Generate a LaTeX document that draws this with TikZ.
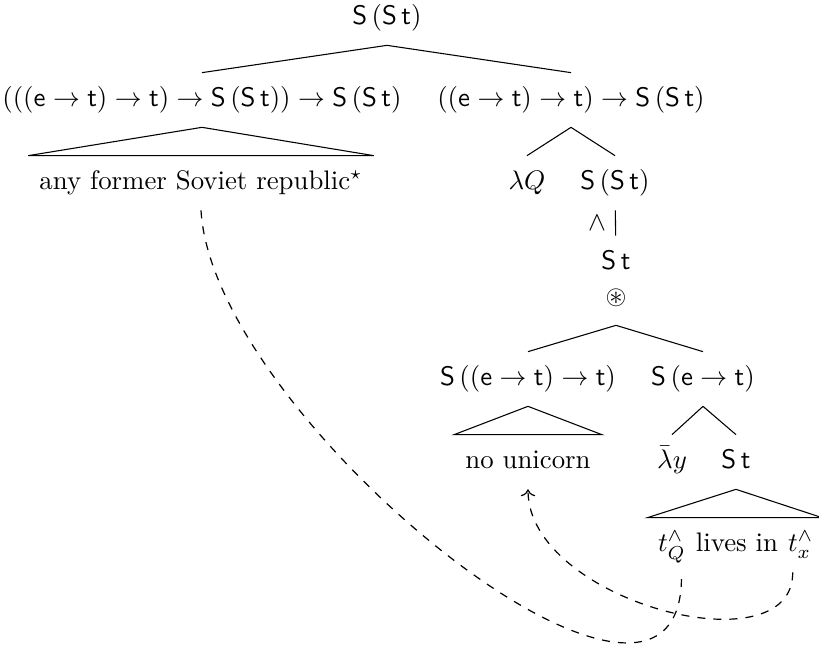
\documentclass[tikz,border=0pt]{standalone}
\usepackage{amsmath, amssymb}
\usepackage{tikz}
\usetikzlibrary{positioning, calc, arrows.meta}
\newcommand{\tyS}{\mathsf{S}}
\newcommand{\tyE}{\mathsf{e}}
\newcommand{\tyT}{\mathsf{t}}
\tikzset{
  lbl/.style={inner xsep=3pt, inner ysep=5pt, text height=7.5pt, text depth=2.5pt},
  leaf/.style={lbl, inner xsep=4pt},
  trace/.style={dashed, line width=0.45pt},
}

\begin{document}
\begin{tikzpicture}[x=0.373pt, y=-0.373pt]
  \useasboundingbox (0,0) rectangle (819,649);
  \node[lbl] (root) at (387,18) {$\tyS\,(\tyS\,\tyT)$};
  \node[lbl] (gq) at (202,100) {$(((\tyE\to\tyT)\to\tyT)\to\tyS\,(\tyS\,\tyT))\to\tyS\,(\tyS\,\tyT)$};
  \node[lbl] (scope) at (571,100) {$((\tyE\to\tyT)\to\tyT)\to\tyS\,(\tyS\,\tyT)$};
  \node[leaf] (afsr) at (201,183) {any former Soviet republic$^\star$};
  \node[lbl] (lamQ) at (527,183) {$\lambda Q$};
  \node[lbl] (body) at (615,183) {$\tyS\,(\tyS\,\tyT)$};
  \node[lbl] (st) at (616,263) {$\tyS\,\tyT$};
  \node[lbl] (bind) at (616,298) {$\circledast$};
  \node[lbl] (nu) at (528,379) {$\tyS\,((\tyE\to\tyT)\to\tyT)$};
  \node[lbl] (pred) at (703,379) {$\tyS\,(\tyE\to\tyT)$};
  \node[leaf] (nounicorn) at (528,462) {no unicorn};
  \node[lbl] (lamy) at (672,462) {$\bar\lambda y$};
  \node[lbl] (st2) at (736,462) {$\tyS\,\tyT$};
  \node[lbl, inner xsep=0pt] (livesin) at (737,545) {lives in};
  \node[lbl, inner xsep=0pt, left=3.33pt of livesin] (tQ) {$t_Q^\wedge$};
  \node[lbl, inner xsep=0pt, right=3.33pt of livesin] (tx) {$t_x^\wedge$};
  \coordinate (qfoot) at ([xshift=3.5pt]tQ.south);
  \coordinate (xfoot) at ([xshift=-3pt]tx.south);

  \draw (root.south) -- (gq.north);
  \draw (root.south) -- (scope.north);
  \draw (gq.south) -- (afsr.north east) -- (afsr.north west) -- cycle;
  \draw (scope.south) -- (lamQ.north);
  \draw (scope.south) -- (body.north);
  \draw (body) -- node[left] {$\wedge$} (st);
  \draw (bind.south) -- (nu.north);
  \draw (bind.south) -- (pred.north);
  \draw (nu.south) -- (nounicorn.north east) -- (nounicorn.north west) -- cycle;
  \draw (pred.south) -- (lamy.north);
  \draw (pred.south) -- (st2.north);
  \draw (st2.south) -- ($(tx.north east)+(8,0)$) -- ($(tQ.north west)+(-10,0)$) -- cycle;

  \draw[trace] (afsr.south) .. controls +(12,211) and +(7,228) .. (qfoot);
  \draw[trace, ->] (xfoot) .. controls +(1,98) and +(0,112) .. (nounicorn.south);
\end{tikzpicture}
\end{document}
